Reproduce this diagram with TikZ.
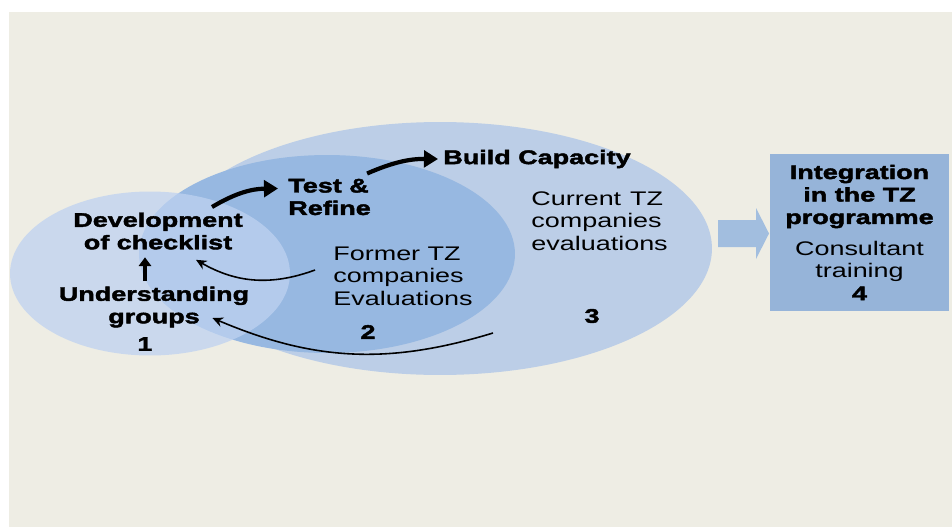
\documentclass[tikz,border=0pt]{standalone}
\usepackage{fontspec}
\newfontfamily\slide[FakeStretch=1.37, BoldFeatures={FakeBold=2.2}]{Liberation Sans}
\usepackage{tikz}
\usetikzlibrary{arrows.meta, positioning}

\definecolor{paper}{RGB}{238,237,228}
\definecolor{outerblue}{RGB}{188,206,231}
\definecolor{midblue}{RGB}{151,184,225}
\definecolor{leftblue}{RGB}{190,210,241}
\definecolor{boxblue}{RGB}{150,180,217}
\definecolor{pushblue}{RGB}{162,190,223}

\begin{document}
\begin{tikzpicture}[x=0.02cm, y=0.02cm,
    txt/.style={font=\slide\fontsize{11.2}{12.8}\selectfont, inner sep=0pt, align=center},
    btxt/.style={txt, font=\slide\bfseries\fontsize{11.2}{12.8}\selectfont},
    fat/.style={line width=2.4pt, -{Triangle[length=8pt, width=9.5pt]}},
    thin/.style={line width=0.9pt, -{Stealth[length=6pt, width=5.5pt]}}]
  % page
  \fill[white] (0,0) rectangle (952,-527);
  \fill[paper] (9,-12) rectangle (952,-527);
  \useasboundingbox (0,0) rectangle (952,-527);

  % the three rings
  \fill[outerblue] (440,-248.5) ellipse [x radius=5.44cm, y radius=2.53cm];
  \fill[midblue] (327,-254) ellipse [x radius=3.76cm, y radius=1.98cm];
  \fill[leftblue, opacity=0.75] (150,-273.5) ellipse [x radius=2.8cm, y radius=1.64cm];

  % block arrow towards the box
  \fill[pushblue] (718,-220) -- (756,-220) -- (756,-208) -- (769,-233.5)
    -- (756,-259) -- (756,-247) -- (718,-247) -- cycle;

  % labels
  \node[btxt] (dev) at (158,-231) {Development\\of checklist};
  \node[btxt] (und) at (154,-307) {Understanding\\groups};
  \node[btxt] (one) at (145,-344) {1};
  \node[btxt, anchor=west, align=left] (test) at (288,-197) {Test \&\\Refine};
  \node[btxt] (build) at (537,-159) {Build Capacity};
  \node[txt, anchor=west, align=left] (former) at (333,-276) {Former TZ\\companies\\Evaluations};
  \node[btxt] (two) at (368,-332) {2};
  \node[txt, anchor=west, align=left] (current) at (531,-221) {Current\hspace{.45em}TZ\\companies\\evaluations};
  \node[btxt] (three) at (592,-316) {3};
  \node[txt, fill=boxblue, minimum width=3.58cm, minimum height=3.14cm] (box) at (859.5,-232.5)
    {\bfseries Integration\\\bfseries in the TZ\\\bfseries programme\\[5pt]Consultant\\training\\\bfseries 4};

  % loose ends of the feedback arrows
  \coordinate (c1) at (212,-207);
  \coordinate (c2) at (315,-270);
  \coordinate (c3) at (493,-333);

  \draw[fat] (c1) to[bend left=15] ([shift={(-0.2cm,-0.2cm)}]test.north west);
  \draw[fat] ([shift={(-0.08cm,0.1cm)}]test.north east) to[bend left=12] ([xshift=-0.1cm]build.west);
  \draw[line width=2.2pt, -{Triangle[length=5pt, width=7pt]}] ([yshift=0.1cm]und.north -| one) -- ([yshift=-0.15cm]dev.south -| one);
  \draw[thin] (c2) to[bend left=25] ([shift={(0.76cm,-0.2cm)}]dev.south);
  \draw[thin] (c3) to[bend left=20] ([shift={(-0.74cm,-0.22cm)}]und.east);
\end{tikzpicture}
\end{document}
